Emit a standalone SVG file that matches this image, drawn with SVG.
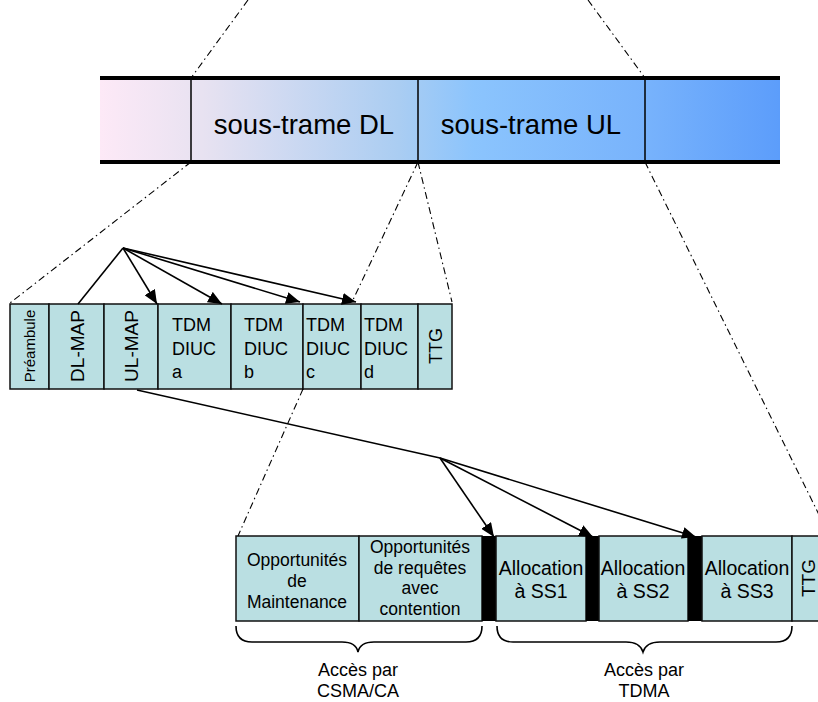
<svg xmlns="http://www.w3.org/2000/svg" width="818" height="702" viewBox="0 0 818 702">
<defs>
<linearGradient id="band" x1="100" y1="0" x2="780" y2="0" gradientUnits="userSpaceOnUse">
<stop offset="0" stop-color="#fde9f7"/>
<stop offset="0.15" stop-color="#e8e2f1"/>
<stop offset="0.44" stop-color="#aacdf2"/>
<stop offset="0.55" stop-color="#8bc4fd"/>
<stop offset="0.8" stop-color="#78b3fc"/>
<stop offset="1" stop-color="#5c9dfb"/>
</linearGradient>
<marker id="ah" markerUnits="userSpaceOnUse" markerWidth="14" markerHeight="12" viewBox="0 0 14 12" refX="14" refY="6" orient="auto">
<path d="M0,0 L14,6 L0,12 Z" fill="#000"/>
</marker>
</defs>
<style>
.t{font-family:"Liberation Sans",Arial,sans-serif;fill:#000}
.box{fill:#badfe2;stroke:#111;stroke-width:1.5}
.dd{fill:none;stroke:#000;stroke-width:1.1;stroke-dasharray:7 3.5 1.5 3.5}
.ln{fill:none;stroke:#000;stroke-width:1.6}
.ar{fill:none;stroke:#000;stroke-width:1.6;marker-end:url(#ah)}
.bar{fill:#000}
</style>

<g id="frame">
<rect x="100" y="78" width="680" height="84" fill="url(#band)"/>
<line x1="100" y1="78" x2="780" y2="78" stroke="#000" stroke-width="4"/>
<line x1="100" y1="162" x2="780" y2="162" stroke="#000" stroke-width="4"/>
<line x1="191" y1="78" x2="191" y2="162" stroke="#000" stroke-width="1.5"/>
<line x1="418" y1="78" x2="418" y2="162" stroke="#000" stroke-width="1.5"/>
<line x1="645" y1="78" x2="645" y2="162" stroke="#000" stroke-width="1.5"/>
<text class="t" x="304" y="134" font-size="27.5" text-anchor="middle">sous-trame DL</text>
<text class="t" x="531" y="134" font-size="27.5" text-anchor="middle">sous-trame UL</text>
</g>

<g id="dl-subframe">
<g id="preambule"><rect class="box" x="10" y="304" width="39" height="85"/><text class="t" font-size="15" text-anchor="middle" transform="translate(35,346) rotate(-90)">Préambule</text></g>
<g id="dl-map"><rect class="box" x="49" y="304" width="55" height="85"/><text class="t" font-size="19" text-anchor="middle" transform="translate(84,346) rotate(-90)">DL-MAP</text></g>
<g id="ul-map"><rect class="box" x="104" y="304" width="54" height="85"/><text class="t" font-size="19" text-anchor="middle" transform="translate(138,346) rotate(-90)">UL-MAP</text></g>
<g id="tdm-a"><rect class="box" x="158" y="304" width="73" height="85"/><text class="t" font-size="18" x="172" y="331">TDM<tspan x="172" y="355">DIUC</tspan><tspan x="172" y="378">a</tspan></text></g>
<g id="tdm-b"><rect class="box" x="231" y="304" width="72" height="85"/><text class="t" font-size="18" x="244" y="331">TDM<tspan x="244" y="355">DIUC</tspan><tspan x="244" y="378">b</tspan></text></g>
<g id="tdm-c"><rect class="box" x="303" y="304" width="58" height="85"/><text class="t" font-size="18" x="306" y="331">TDM<tspan x="306" y="355">DIUC</tspan><tspan x="306" y="378">c</tspan></text></g>
<g id="tdm-d"><rect class="box" x="361" y="304" width="57" height="85"/><text class="t" font-size="18" x="364" y="331">TDM<tspan x="364" y="355">DIUC</tspan><tspan x="364" y="378">d</tspan></text></g>
<g id="ttg-dl"><rect class="box" x="418" y="304" width="34" height="85"/><text class="t" font-size="18" text-anchor="middle" transform="translate(442,346) rotate(-90)">TTG</text></g>
</g>

<g id="ul-subframe">
<g id="maint"><rect class="box" x="236" y="536" width="123" height="85"/><text class="t" font-size="17.5" text-anchor="middle" x="297" y="566">Opportunités<tspan x="297" y="587">de</tspan><tspan x="297" y="608">Maintenance</tspan></text></g>
<g id="contention"><rect class="box" x="359" y="536" width="123" height="85"/><text class="t" font-size="17.5" text-anchor="middle" x="420" y="553">Opportunités<tspan x="420" y="574">de requêtes</tspan><tspan x="420" y="594">avec</tspan><tspan x="420" y="615">contention</tspan></text></g>
<rect class="bar" x="482" y="536" width="14" height="85"/>
<g id="ss1"><rect class="box" x="496" y="536" width="90" height="85"/><text class="t" font-size="19.5" text-anchor="middle" x="541" y="575">Allocation<tspan x="541" y="598">à SS1</tspan></text></g>
<rect class="bar" x="586" y="536" width="13" height="85"/>
<g id="ss2"><rect class="box" x="599" y="536" width="89" height="85"/><text class="t" font-size="19.5" text-anchor="middle" x="643" y="575">Allocation<tspan x="643" y="598">à SS2</tspan></text></g>
<rect class="bar" x="688" y="536" width="14" height="85"/>
<g id="ss3"><rect class="box" x="702" y="536" width="90" height="85"/><text class="t" font-size="19.5" text-anchor="middle" x="747" y="575">Allocation<tspan x="747" y="598">à SS3</tspan></text></g>
<g id="ttg-ul"><rect class="box" x="792" y="536" width="40" height="85"/><text class="t" font-size="19" text-anchor="middle" transform="translate(815,578) rotate(-90)">TTG</text></g>
</g>

<g id="braces">
<path class="ln" stroke-width="1.3" d="M236,626 Q236,642 252,642 L342,642 Q356,642 358,652 Q360,642 374,642 L466,642 Q482,642 482,626"/>
<path class="ln" stroke-width="1.3" d="M497,626 Q497,642 513,642 L626,642 Q640,642 643,652 Q646,642 660,642 L776,642 Q792,642 792,626"/>
<text class="t" font-size="18" text-anchor="middle" x="358" y="676">Accès par<tspan x="358" y="697">CSMA/CA</tspan></text>
<text class="t" font-size="18" text-anchor="middle" x="644" y="676">Accès par<tspan x="644" y="697">TDMA</tspan></text>
</g>

<g id="connectors">
<line class="dd" x1="248" y1="0" x2="191" y2="78"/>
<line class="dd" x1="588" y1="0" x2="645" y2="78"/>
<line class="dd" x1="191" y1="162" x2="10" y2="303"/>
<line class="dd" x1="418" y1="162" x2="352" y2="302"/>
<line class="dd" x1="418" y1="162" x2="452" y2="302"/>
<line class="dd" x1="645" y1="162" x2="830" y2="537"/>
<line class="dd" x1="303" y1="389" x2="238" y2="536"/>
<line class="ln" x1="123" y1="248" x2="78" y2="304"/>
<line class="ar" x1="123" y1="248" x2="157" y2="304"/>
<line class="ar" x1="123" y1="248" x2="222" y2="304"/>
<line class="ar" x1="123" y1="248" x2="300" y2="302"/>
<line class="ar" x1="123" y1="248" x2="356" y2="302"/>
<polyline class="ln" points="137,390 440,458"/>
<line class="ar" x1="440" y1="458" x2="494" y2="537"/>
<line class="ar" x1="440" y1="458" x2="593" y2="537"/>
<line class="ar" x1="440" y1="458" x2="696" y2="537"/>
</g>
</svg>
